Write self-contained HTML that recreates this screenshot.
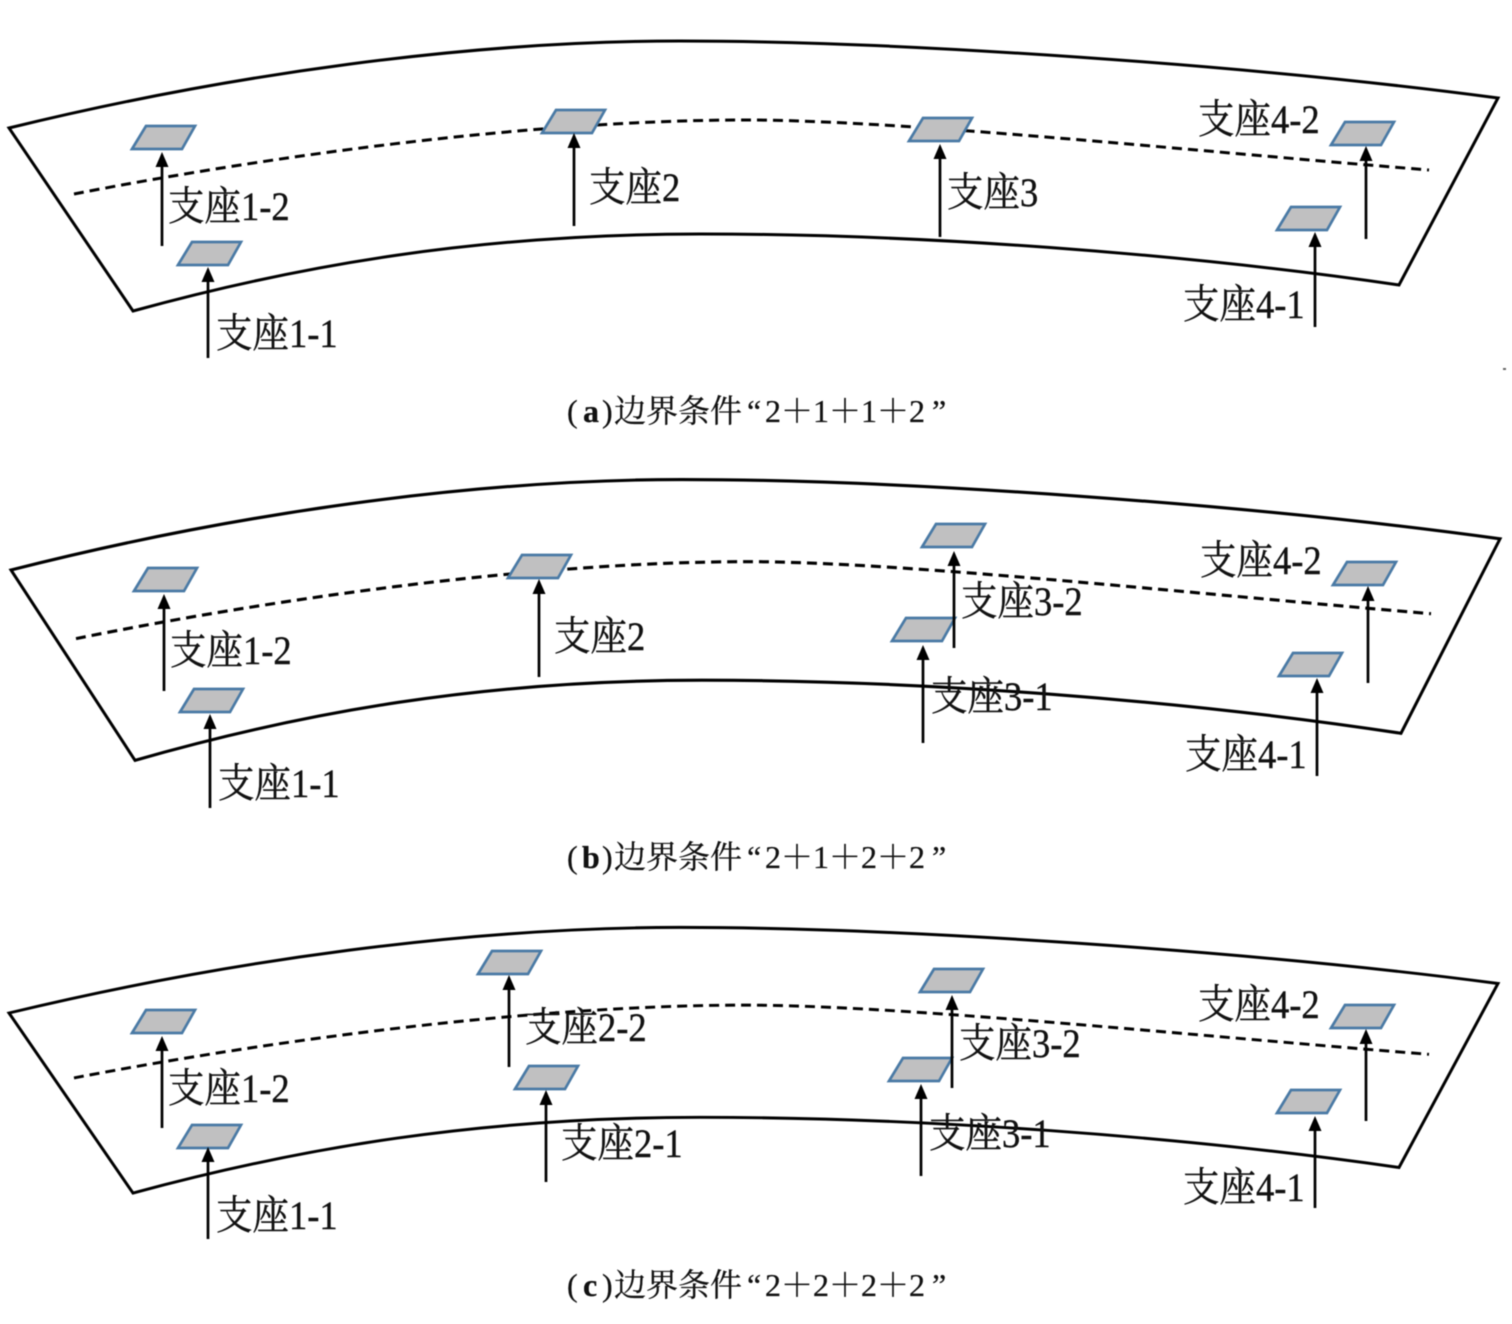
<!DOCTYPE html>
<html><head><meta charset="utf-8"><style>
html,body{margin:0;padding:0;background:#fff;width:1512px;height:1324px;overflow:hidden}
svg{display:block;filter:blur(.55px)}
.l{font:36.5px "Liberation Serif","Noto Serif CJK SC",serif;fill:#111;stroke:#111;stroke-width:.35;transform-box:fill-box;transform-origin:50% 50%;transform:scale(1,1.1)}
.c{font:32px "Liberation Serif","Noto Serif CJK SC",serif;fill:#111;stroke:#111;stroke-width:.25}
.o{fill:none;stroke:#000;stroke-width:3;stroke-linejoin:miter}
.d{fill:none;stroke:#000;stroke-width:3;stroke-dasharray:10 6}
.a{stroke:#000;stroke-width:2.7}
</style></head><body>
<svg width="1512" height="1324" viewBox="0 0 1512 1324" xmlns="http://www.w3.org/2000/svg">
<defs>
<g id="f">
<path class="o" d="M9,128C230,74 470,41 680,41C900,41 1250,65 1498,98L1399,285C1180,253 920,234 700,234C480,234 300,265 133,311Z"/>
</g>
<path id="dash" class="d" d="M74,194C280,154 540,120 745,120C900,120 1180,150 1429,170"/>
<path id="p" d="M0,0L14,-23H63L50,0Z" fill="#c0c0c1" stroke="#4a7aa5" stroke-width="2.7"/>
<path id="h" d="M0,-1L6.5,14H-6.5Z" fill="#000"/>
</defs>

<!-- panel a -->
<use href="#dash"/><use href="#f"/>
<g>
<use href="#p" x="132" y="149"/><use href="#p" x="178" y="265"/><use href="#p" x="542" y="133"/><use href="#p" x="909" y="141"/><use href="#p" x="1331" y="145"/><use href="#p" x="1277" y="230"/>
<line class="a" x1="162" y1="160" x2="162" y2="246"/><use href="#h" x="162" y="153"/>
<line class="a" x1="208" y1="275" x2="208" y2="358"/><use href="#h" x="208" y="268"/>
<line class="a" x1="574" y1="141" x2="574" y2="226"/><use href="#h" x="574" y="134"/>
<line class="a" x1="940" y1="152" x2="940" y2="237"/><use href="#h" x="940" y="145"/>
<line class="a" x1="1366" y1="154" x2="1366" y2="239"/><use href="#h" x="1366" y="147"/>
<line class="a" x1="1315" y1="240" x2="1315" y2="327"/><use href="#h" x="1315" y="233"/>
</g>
<text class="l" x="168" y="219">支座1-2</text>
<text class="l" x="216" y="346">支座1-1</text>
<text class="l" x="589" y="200">支座2</text>
<text class="l" x="947" y="205">支座3</text>
<text class="l" x="1198" y="132">支座4-2</text>
<text class="l" x="1183" y="317">支座4-1</text>
<text class="c" y="422"><tspan x="567">(</tspan><tspan font-weight="bold" x="583">a</tspan><tspan x="602">)</tspan><tspan x="614">边界条件</tspan><tspan x="747">“</tspan><tspan x="765">2＋1＋1＋2</tspan><tspan x="932">”</tspan></text>

<!-- panel b -->
<g transform="translate(2,570) scale(1,1.04) translate(0,-128)"><use href="#dash"/><use href="#f"/></g>
<use href="#p" x="134" y="591"/><use href="#p" x="180" y="712"/><use href="#p" x="508" y="578"/><use href="#p" x="922" y="547"/><use href="#p" x="892" y="641"/><use href="#p" x="1333" y="585"/><use href="#p" x="1279" y="676"/>
<line class="a" x1="164" y1="602" x2="164" y2="691"/><use href="#h" x="164" y="595"/>
<line class="a" x1="210" y1="722" x2="210" y2="808"/><use href="#h" x="210" y="715"/>
<line class="a" x1="539" y1="587" x2="539" y2="677"/><use href="#h" x="539" y="580"/>
<line class="a" x1="954" y1="559" x2="954" y2="648"/><use href="#h" x="954" y="552"/>
<line class="a" x1="923" y1="653" x2="923" y2="743"/><use href="#h" x="923" y="646"/>
<line class="a" x1="1368" y1="594" x2="1368" y2="683"/><use href="#h" x="1368" y="587"/>
<line class="a" x1="1317" y1="686" x2="1317" y2="776"/><use href="#h" x="1317" y="679"/>
<text class="l" x="170" y="663">支座1-2</text>
<text class="l" x="218" y="796">支座1-1</text>
<text class="l" x="554" y="649">支座2</text>
<text class="l" x="961" y="614">支座3-2</text>
<text class="l" x="931" y="709">支座3-1</text>
<text class="l" x="1200" y="573">支座4-2</text>
<text class="l" x="1185" y="767">支座4-1</text>
<text class="c" y="868"><tspan x="567">(</tspan><tspan font-weight="bold" x="582">b</tspan><tspan x="602">)</tspan><tspan x="614">边界条件</tspan><tspan x="747">“</tspan><tspan x="765">2＋1＋2＋2</tspan><tspan x="932">”</tspan></text>

<!-- panel c -->
<g transform="translate(0,1013) scale(1,.984) translate(0,-128)"><use href="#dash"/><use href="#f"/></g>
<use href="#p" x="132" y="1033"/><use href="#p" x="178" y="1148"/><use href="#p" x="478" y="974"/><use href="#p" x="515" y="1089"/><use href="#p" x="920" y="992"/><use href="#p" x="889" y="1081"/><use href="#p" x="1331" y="1028"/><use href="#p" x="1277" y="1113"/>
<line class="a" x1="162" y1="1044" x2="162" y2="1128"/><use href="#h" x="162" y="1037"/>
<line class="a" x1="208" y1="1155" x2="208" y2="1239"/><use href="#h" x="208" y="1148"/>
<line class="a" x1="509" y1="983" x2="509" y2="1067"/><use href="#h" x="509" y="976"/>
<line class="a" x1="546" y1="1098" x2="546" y2="1182"/><use href="#h" x="546" y="1091"/>
<line class="a" x1="952" y1="1003" x2="952" y2="1088"/><use href="#h" x="952" y="996"/>
<line class="a" x1="921" y1="1092" x2="921" y2="1176"/><use href="#h" x="921" y="1085"/>
<line class="a" x1="1366" y1="1037" x2="1366" y2="1121"/><use href="#h" x="1366" y="1030"/>
<line class="a" x1="1315" y1="1124" x2="1315" y2="1208"/><use href="#h" x="1315" y="1117"/>
<text class="l" x="168" y="1101">支座1-2</text>
<text class="l" x="216" y="1228">支座1-1</text>
<text class="l" x="525" y="1040">支座2-2</text>
<text class="l" x="561" y="1156">支座2-1</text>
<text class="l" x="959" y="1056">支座3-2</text>
<text class="l" x="929" y="1146">支座3-1</text>
<text class="l" x="1198" y="1017">支座4-2</text>
<text class="l" x="1183" y="1200">支座4-1</text>
<text class="c" y="1296"><tspan x="567">(</tspan><tspan font-weight="bold" x="583">c</tspan><tspan x="602">)</tspan><tspan x="614">边界条件</tspan><tspan x="747">“</tspan><tspan x="765">2＋2＋2＋2</tspan><tspan x="932">”</tspan></text>

<rect x="1503" y="368" width="3" height="2" fill="#666"/>
</svg>
</body></html>
